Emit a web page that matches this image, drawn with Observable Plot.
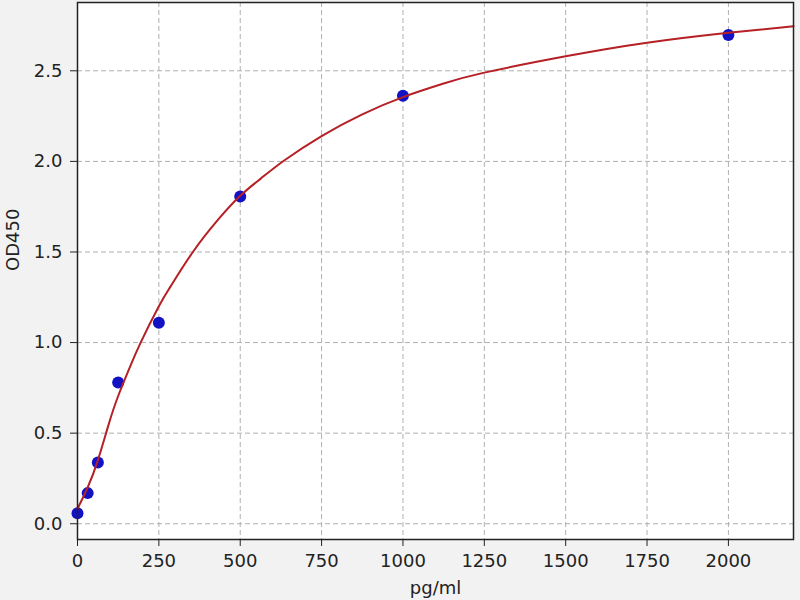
<!DOCTYPE html>
<html>
<head>
<meta charset="utf-8">
<script src="https://cdn.jsdelivr.net/npm/d3@7"></script>
<script src="https://cdn.jsdelivr.net/npm/@observablehq/plot@0.6"></script>
<style>
  html, body { margin: 0; padding: 0; background: #f2f2f2; }
  #chart { width: 800px; height: 600px; }
</style>
</head>
<body>
<div id="chart"></div>
<script>
// standards (measured)
var conc = [0, 31.25, 62.5, 125, 250, 500, 1000, 2000];
var od = [0.058, 0.169, 0.338, 0.78, 1.11, 1.806, 2.362, 2.697];

// fitted curve
var fitConc = [0, 31.25, 62.5, 96, 125, 160, 194, 250, 286, 353, 430, 500, 563, 635, 750, 875, 1000, 1125, 1250, 1500, 1750, 2000, 2200];
var fitOd = [0.083, 0.2, 0.35, 0.55, 0.705, 0.86, 1.0, 1.2, 1.31, 1.496, 1.674, 1.81, 1.905, 2.005, 2.14, 2.26, 2.355, 2.43, 2.49, 2.58, 2.655, 2.71, 2.746];

var xTicks = [0, 250, 500, 750, 1000, 1250, 1500, 1750, 2000];
var yTicks = [0, 0.5, 1.0, 1.5, 2.0, 2.5];

var points = conc.map((c, i) => ({ x: c, y: od[i] }));
var fit = fitConc.map((c, i) => ({ x: c, y: fitOd[i] }));

var chart = Plot.plot({
  width: 800,
  height: 600,
  marginLeft: 77,
  marginRight: 7,
  marginTop: 2,
  marginBottom: 61,
  style: { background: "#f2f2f2", fontFamily: "DejaVu Sans", fontSize: "18px", color: "#222" },
  x: { domain: [0, 2200] },
  y: { domain: [-0.087, 2.877] },
  marks: [
    Plot.frame({ fill: "white" }),
    Plot.gridX(xTicks, { stroke: "#b0b0b0", strokeOpacity: 1, strokeDasharray: "5,3" }),
    Plot.gridY(yTicks, { stroke: "#b0b0b0", strokeOpacity: 1, strokeDasharray: "5,3" }),
    Plot.dot(points, { x: "x", y: "y", r: 6, fill: "#1212c4" }),
    Plot.line(fit, { x: "x", y: "y", stroke: "#b52025", strokeWidth: 2, curve: "natural" }),
    Plot.axisX(xTicks, { tickSize: 7, tickPadding: 8, tickFormat: d3.format("d"), label: null, stroke: "#222" }),
    Plot.axisY(yTicks, { tickSize: 7, tickPadding: 8, tickFormat: d3.format(".1f"), label: null, stroke: "#222" }),
    Plot.frame({ stroke: "#222", strokeWidth: 1.5 }),
    Plot.text(["pg/ml"], { frameAnchor: "bottom", dy: 49, lineAnchor: "middle", fill: "#222" }),
    Plot.text(["OD450"], { frameAnchor: "left", dx: -64, rotate: -90, lineAnchor: "middle", fill: "#222" })
  ]
});

d3.select("#chart").append(() => chart);
</script>
</body>
</html>
